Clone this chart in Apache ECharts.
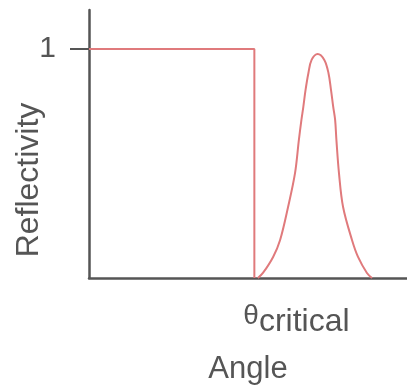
<!DOCTYPE html>
<html>
<head>
<meta charset="utf-8">
<script src="https://cdn.jsdelivr.net/npm/echarts@6/dist/echarts.min.js"></script>
<style>
  html, body { margin: 0; padding: 0; background: #fff; }
  #chart { width: 407px; height: 391px; }
</style>
</head>
<body>
<div id="chart"></div>
<script>
// angle is in arbitrary units 0..100, reflectivity 0..1
var criticalAngle = 52;
var stepAngles = [0, 52, 52];
var stepValues = [1, 1, 0];
var peakAngles = [53.1, 54.7, 57.9, 60.1, 62.6, 64.8, 66.0, 66.8, 67.4, 68.1, 69.0, 70.0, 71.9, 74.0, 75.3, 76.1, 76.8, 77.4, 77.8, 78.6, 79.9, 82.7, 84.6, 87.4, 89.0];
var peakValues = [0, 0.022, 0.092, 0.166, 0.310, 0.459, 0.603, 0.690, 0.747, 0.821, 0.895, 0.952, 0.978, 0.952, 0.895, 0.821, 0.747, 0.690, 0.603, 0.459, 0.310, 0.166, 0.092, 0.022, 0];
var yTicks = [1];

var axisGrey = '#555';
var red = '#e07a7c';
var font = 'Liberation Sans, Arial, sans-serif';

function pairs(xs, ys) {
  var out = [];
  for (var i = 0; i < xs.length; i++) out.push([xs[i], ys[i]]);
  return out;
}

var chart = echarts.init(document.getElementById('chart'));
var option = {
  animation: false,
  grid: { left: 89, right: 0, top: 10, bottom: 113, outerBoundsMode: 'none' },
  xAxis: {
    type: 'value',
    min: 0,
    max: 100,
    name: 'Angle',
    nameLocation: 'middle',
    nameGap: 76,
    nameMoveOverlap: false,
    nameTextStyle: { fontFamily: font, fontSize: 31, color: axisGrey },
    axisLine: { lineStyle: { color: axisGrey, width: 2.5 } },
    axisTick: { show: false },
    axisLabel: { show: false },
    splitLine: { show: false }
  },
  yAxis: {
    type: 'value',
    min: 0,
    max: 1.17,
    name: 'Reflectivity',
    nameLocation: 'middle',
    nameGap: 44,
    nameMoveOverlap: false,
    nameTextStyle: { fontFamily: font, fontSize: 32, color: axisGrey, padding: [0, 72, 0, 0] },
    axisLine: { show: true, lineStyle: { color: axisGrey, width: 2.5 } },
    axisTick: { show: true, length: 19, customValues: yTicks, lineStyle: { color: axisGrey, width: 2 } },
    axisLabel: { customValues: yTicks, margin: 33, fontFamily: font, fontSize: 30, color: axisGrey },
    splitLine: { show: false }
  },
  series: [
    {
      type: 'line',
      data: pairs(stepAngles, stepValues),
      showSymbol: false,
      lineStyle: { color: red, width: 2 }
    },
    {
      type: 'line',
      data: pairs(peakAngles, peakValues),
      smooth: 0.35,
      showSymbol: false,
      lineStyle: { color: red, width: 2 },
      markPoint: {
        symbol: 'circle',
        symbolSize: 0,
        data: [{ coord: [criticalAngle, 0] }],
        label: {
          show: true,
          position: 'inside',
          align: 'left',
          verticalAlign: 'top',
          offset: [-11, 24],
          formatter: '{t|θ}{s|critical}',
          rich: {
            t: { fontFamily: font, fontSize: 28, color: axisGrey, verticalAlign: 'top', lineHeight: 30 },
            s: { fontFamily: font, fontSize: 32, color: axisGrey, padding: [10, 0, 0, 0], lineHeight: 30 }
          }
        }
      }
    }
  ]
};
chart.setOption(option);
</script>
</body>
</html>
